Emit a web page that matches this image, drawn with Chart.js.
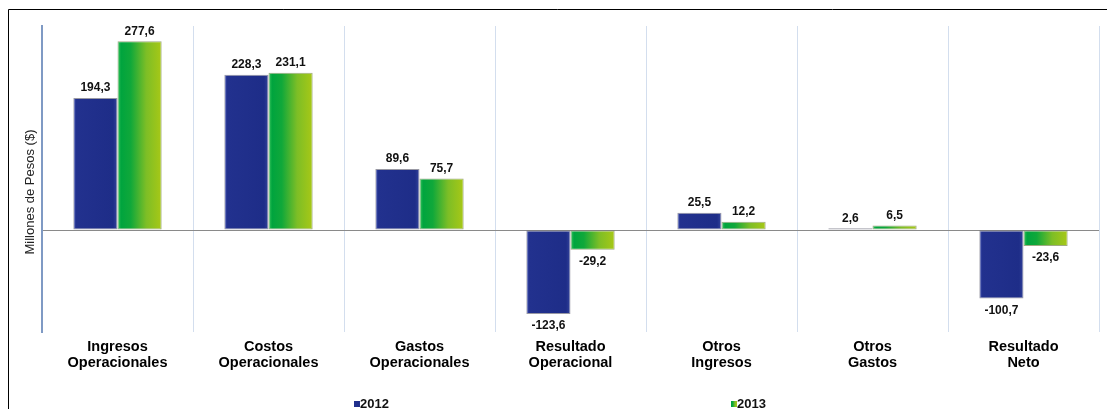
<!DOCTYPE html>
<html>
<head>
<meta charset="utf-8">
<script src="https://cdn.jsdelivr.net/npm/chart.js@4/dist/chart.umd.min.js"></script>
<style>
  html, body { margin: 0; padding: 0; background: #fff; }
  #wrap { width: 1107px; height: 409px; }
</style>
</head>
<body>
<div id="wrap"><canvas id="chart" width="1107" height="409"></canvas></div>
<script>
const categories = [
    ["Ingresos", "Operacionales"],
    ["Costos", "Operacionales"],
    ["Gastos", "Operacionales"],
    ["Resultado", "Operacional"],
    ["Otros", "Ingresos"],
    ["Otros", "Gastos"],
    ["Resultado", "Neto"]
];
const series_names = ["2012", "2013"];
const values_2012 = [194.3, 228.3, 89.6, -123.6, 25.5, 2.6, -100.7];
const values_2013 = [277.6, 231.1, 75.7, -29.2, 12.2, 6.5, -23.6];
const y_min = -150;
const y_max = 300;
const y_title = "Millones de Pesos ($)";

const CAT_PCT = 0.585;
const FONT = "'Liberation Sans', Arial, sans-serif";
const blue_stops = [[0, "#4050B0"], [0.07, "#22318E"], [0.9, "#1E2D88"], [1, "#34449C"]];
const green_stops = [[0, "#40C860"], [0.08, "#00A43E"], [0.3, "#10A83A"], [0.65, "#7DBE26"], [1, "#A8C816"]];

const fmt = (v) => v.toFixed(1).replace(".", ",");

// horizontal gradient per bar, computed from the x scale
const bar_fill = (ctx, stops) => {
    const chart = ctx.chart;
    const xs = chart.scales.x;
    if (ctx.type !== "data" || !xs || !chart.chartArea) return stops[1][1];
    const center = xs.getPixelForValue(ctx.dataIndex);
    const w = (xs.width / categories.length) * CAT_PCT / 2;
    const left = ctx.datasetIndex === 0 ? center - w : center;
    const g = chart.ctx.createLinearGradient(left, 0, left + w, 0);
    stops.forEach(([p, c]) => g.addColorStop(p, c));
    return g;
};

const frame_plugin = {
    id: "frame",
    beforeDraw(chart) {
        const c = chart.ctx;
        c.save();
        c.strokeStyle = "#000";
        c.lineWidth = 1;
        c.beginPath();
        c.moveTo(8.5, 409);
        c.lineTo(8.5, 9.5);
        c.lineTo(1107, 9.5);
        c.stroke();
        // axis title
        c.translate(30, 192);
        c.rotate(-Math.PI / 2);
        c.font = "13px " + FONT;
        c.fillStyle = "#222";
        c.textAlign = "center";
        c.textBaseline = "middle";
        c.fillText(y_title, 0, 0);
        c.restore();
    }
};

const labels_plugin = {
    id: "valueLabels",
    afterDatasetsDraw(chart) {
        const c = chart.ctx;
        c.save();
        c.font = "bold 12px " + FONT;
        c.fillStyle = "#111";
        c.textAlign = "center";
        chart.data.datasets.forEach((ds, di) => {
            chart.getDatasetMeta(di).data.forEach((el, i) => {
                const v = ds.data[i];
                if (v >= 0) {
                    c.textBaseline = "bottom";
                    c.fillText(fmt(v), el.x, el.y - 4);
                } else {
                    c.textBaseline = "top";
                    c.fillText(fmt(v), el.x, el.y + 6);
                }
            });
        });
        c.restore();
    }
};

const legend_plugin = {
    id: "wideLegend",
    afterDraw(chart) {
        const c = chart.ctx;
        const spots = [354, 731];
        c.save();
        c.font = "bold 13px " + FONT;
        c.textBaseline = "middle";
        c.textAlign = "left";
        chart.data.datasets.forEach((ds, di) => {
            const x = spots[di];
            const y = 404;
            const stops = di === 0 ? blue_stops : green_stops;
            const g = c.createLinearGradient(x, 0, x + 6, 0);
            stops.forEach(([p, col]) => g.addColorStop(p, col));
            c.fillStyle = g;
            c.fillRect(x, y - 3, 6, 6);
            c.fillStyle = "#111";
            c.fillText(ds.label, x + 6, y + 0.5);
        });
        c.restore();
    }
};

const chart_container = document.getElementById("chart").getContext("2d");
const results_chart = new Chart(chart_container, {
    type: "bar",
    data: {
        labels: categories,
        datasets: [{
            label: series_names[0],
            data: values_2012,
            backgroundColor: (ctx) => bar_fill(ctx, blue_stops),
            borderColor: "rgba(70,70,90,0.55)",
            borderWidth: 1,
            borderSkipped: false
        }, {
            label: series_names[1],
            data: values_2013,
            backgroundColor: (ctx) => bar_fill(ctx, green_stops),
            borderColor: "rgba(80,100,30,0.55)",
            borderWidth: 1,
            borderSkipped: false
        }]
    },
    options: {
        responsive: false,
        animation: false,
        events: [],
        datasets: {
            bar: { categoryPercentage: CAT_PCT, barPercentage: 1 }
        },
        layout: { padding: { left: 8, right: 8, top: 26, bottom: 0 } },
        plugins: {
            legend: { display: false },
            tooltip: { enabled: false }
        },
        scales: {
            x: {
                offset: true,
                grid: { offset: true, color: "#D3DEEE", lineWidth: 1, drawTicks: false },
                border: { display: false },
                ticks: {
                    color: "#000",
                    padding: 7,
                    maxRotation: 0,
                    font: { family: FONT, size: 14.5, weight: "bold", lineHeight: 1.1 }
                },
                afterFit: (axis) => { axis.height = 77; }
            },
            y: {
                min: y_min,
                max: y_max,
                ticks: { display: false, stepSize: 50 },
                grid: {
                    drawTicks: false,
                    color: (ctx) => ctx.tick && ctx.tick.value === 0 ? "#8A8A8A" : "rgba(0,0,0,0)"
                },
                border: { display: true, color: "#7F9AC4", width: 2 },
                afterFit: (axis) => { axis.width = 34; }
            }
        }
    },
    plugins: [frame_plugin, labels_plugin, legend_plugin]
});
</script>
</body>
</html>
